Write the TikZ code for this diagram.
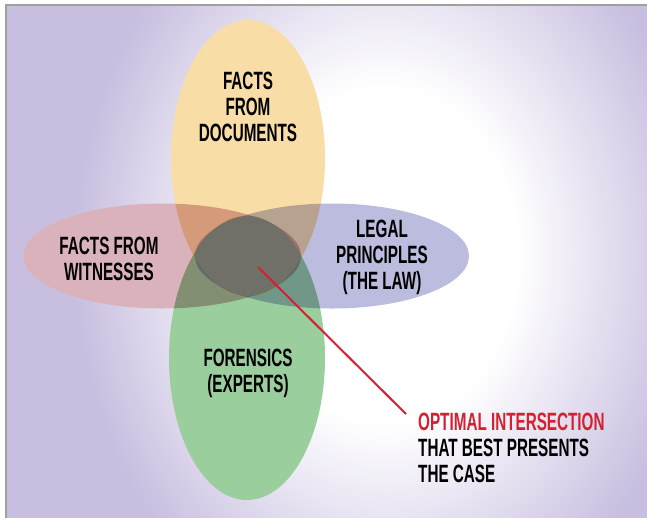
\documentclass[tikz,border=0pt]{standalone}
\usepackage{fontspec}
\setmainfont{Liberation Sans}[FakeStretch=0.61]
\usetikzlibrary{calc}

\definecolor{lav}{RGB}{200,190,224}
\definecolor{framegray}{RGB}{160,160,160}
\definecolor{docfill}{RGB}{249,221,166}
\definecolor{witfill}{RGB}{218,178,188}
\definecolor{lawfill}{RGB}{188,188,222}
\definecolor{forfill}{RGB}{154,206,157}
\definecolor{corefill}{RGB}{112,112,104}
\definecolor{callred}{RGB}{212,32,48}

% soft lavender vignette; a shaded path of radius R spans 0..25bp
\pgfdeclareradialshading{backdrop}{\pgfpointorigin}{%
  color(0bp)=(white); color(5.5bp)=(white); color(13bp)=(lav); color(50bp)=(lav)}

\newcommand{\petaldoc}{(248,158) ellipse [x radius=77pt, y radius=138pt]}
\newcommand{\petalwit}{(162,256) ellipse [x radius=139pt, y radius=52.5pt]}
\newcommand{\petallaw}{(332,256) ellipse [x radius=137pt, y radius=52.5pt]}
\newcommand{\petalfor}{(247,358) ellipse [x radius=78pt, y radius=142pt]}

\begin{document}
\begin{tikzpicture}[x=1pt,y=-1pt,
    petal/.style={blend mode=multiply},
    label/.style={font=\bfseries\fontsize{25}{26}\selectfont, align=center, inner sep=0pt, text=black},
    callline/.style={draw=callred, line width=2pt}]

  \useasboundingbox (0,0) rectangle (647,517);
  \fill[white] (0,0) rectangle (647,517);

  % background panel
  \begin{scope}
    \clip (6,5) rectangle (647,517);
    \shade[shading=backdrop] (385,255) ellipse [x radius=600pt, y radius=760pt];
  \end{scope}
  \draw[framegray, line width=1.3pt] (6,518) -- (6,5) -- (648,5);

  % white underlay so the petals keep their own tint
  \fill[white] \petaldoc \petalwit \petallaw \petalfor;

  % the four overlapping petals, tinting each other where they cross
  \begin{scope}[petal]
    \fill[docfill] \petaldoc;
    \fill[witfill] \petalwit;
    \fill[lawfill] \petallaw;
    \fill[forfill] \petalfor;
  \end{scope}

  % the common core where all four petals meet
  \begin{scope}
    \clip \petaldoc;
    \clip \petalwit;
    \clip \petallaw;
    \clip \petalfor;
    \fill[corefill] (150,150) rectangle (350,350);
  \end{scope}

  % petal labels
  \node[label] (docs) at (248,106.5) {FACTS\\FROM\\DOCUMENTS};
  \node[label] (witnesses) at (109,258.5) {FACTS FROM\\WITNESSES};
  \node[label] (law) at (382,257.5) {LEGAL\\PRINCIPLES\\(THE LAW)};
  \node[label] (forensics) at (248,373.5) {FORENSICS\\(EXPERTS)};

  % callout for the common core
  \node[label, align=left, anchor=west] (callout) at (418,448)
    {\textcolor{callred}{OPTIMAL INTERSECTION}\\THAT BEST PRESENTS\\THE CASE};
  \coordinate (core) at (258,267);
  \coordinate (tip) at (406,414);
  \draw[callline] (core) -- (tip);
\end{tikzpicture}
\end{document}
